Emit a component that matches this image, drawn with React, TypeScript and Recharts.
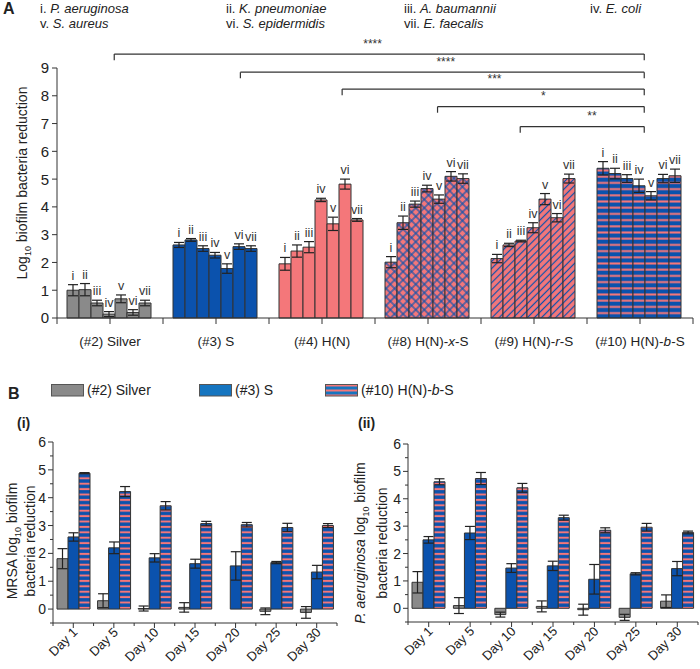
import React from "react";
import {
  BarChart,
  ScatterChart,
  Scatter,
  Bar,
  XAxis,
  YAxis,
  ErrorBar,
  Cell,
  LabelList,
  ReferenceLine,
} from "recharts";

const FONT = '"Liberation Sans", Arial, Helvetica, sans-serif';
const GRAY = "#8a8a8a";
const BLUE = "#0b52ad";
const LEGEND_BLUE = "#1675c0";
const SALMON = "#f4777a";
const EDGE = "#333333";
const INK = "#222222";

// ---------- panel A data ----------
const groupsA = [
  "(#2) Silver",
  "(#3) S",
  "(#4) H(N)",
  "(#8) H(N)-x-S",
  "(#9) H(N)-r-S",
  "(#10) H(N)-b-S",
];
const strains = ["i", "ii", "iii", "iv", "v", "vi", "vii"];
const speciesNames = [
  "P. aeruginosa",
  "K. pneumoniae",
  "A. baumannii",
  "E. coli",
  "S. aureus",
  "S. epidermidis",
  "E. faecalis",
];

const silverA = [1.0, 1.02, 0.54, 0.14, 0.69, 0.2, 0.54];
const silverErrA = [0.2, 0.22, 0.1, 0.09, 0.14, 0.1, 0.1];
const sA = [2.63, 2.81, 2.5, 2.26, 1.78, 2.57, 2.5];
const sErrA = [0.09, 0.05, 0.1, 0.1, 0.17, 0.1, 0.1];
const hnA = [1.95, 2.41, 2.55, 4.25, 3.39, 4.82, 3.53];
const hnErrA = [0.23, 0.22, 0.2, 0.06, 0.24, 0.18, 0.05];
const hnxA = [2.01, 3.43, 4.1, 4.66, 4.28, 5.1, 5.02];
const hnxErrA = [0.2, 0.24, 0.11, 0.12, 0.15, 0.17, 0.17];
const hnrA = [2.14, 2.63, 2.77, 3.25, 4.28, 3.61, 5.02];
const hnrErrA = [0.15, 0.06, 0.03, 0.18, 0.2, 0.15, 0.16];
const hnbA = [5.39, 5.2, 5.02, 4.76, 4.4, 5.02, 5.12];
const hnbErrA = [0.24, 0.19, 0.14, 0.24, 0.15, 0.15, 0.24];

const valuesA = [silverA, sA, hnA, hnxA, hnrA, hnbA];
const errorsA = [silverErrA, sErrA, hnErrA, hnxErrA, hnrErrA, hnbErrA];

// significance brackets (x on a 0..6 group scale, y in log units)
const bracketLeft = [0.54, 1.73, 2.69, 3.59, 4.37];
const bracketRight = 5.54;
const bracketY = [9.5, 8.85, 8.24, 7.61, 6.89];
const bracketStarX = [3.02, 3.71, 4.17, 4.63, 5.09];
const bracketStars = ["****", "****", "***", "*", "**"];
const bracketDrop = 0.22;

// ---------- panel B data ----------
const days = ["Day 1", "Day 5", "Day 10", "Day 15", "Day 20", "Day 25", "Day 30"];

const mrsaSilver = [1.81, 0.3, 0.02, 0.06, 0.0, -0.08, -0.12];
const mrsaSilverErr = [0.36, 0.25, 0.09, 0.17, 0.2, 0.12, 0.21];
const mrsaS = [2.59, 2.2, 1.84, 1.63, 1.55, 1.67, 1.33];
const mrsaSErr = [0.15, 0.21, 0.15, 0.16, 0.51, 0.04, 0.24];
const mrsaBS = [4.88, 4.22, 3.71, 3.07, 3.03, 2.93, 3.0];
const mrsaBSErr = [0.02, 0.18, 0.15, 0.08, 0.08, 0.15, 0.07];

const paSilver = [0.95, 0.1, -0.23, 0.07, -0.05, -0.33, 0.26];
const paSilverErr = [0.39, 0.29, 0.09, 0.2, 0.2, 0.11, 0.23];
const paS = [2.5, 2.75, 1.47, 1.55, 1.06, 1.26, 1.45];
const paSErr = [0.12, 0.24, 0.16, 0.17, 0.54, 0.04, 0.26];
const paBS = [4.62, 4.74, 4.4, 3.31, 2.85, 2.96, 2.77];
const paBSErr = [0.11, 0.22, 0.16, 0.09, 0.09, 0.14, 0.05];

const ticksA = [0, 1, 2, 3, 4, 5, 6, 7, 8, 9];
const ticksB = [-0.5, 0, 0.5, 1, 1.5, 2, 2.5, 3, 3.5, 4, 4.5, 5, 5.5, 6];

// ---------- layout ----------
const A_W = 700;
const A_H = 355;
const A_MARGIN = { top: 68, right: 7, left: 0, bottom: 0 };
const A_YW = 57;
const A_XH = 37;
const A_PLOT_H = A_H - A_MARGIN.top - A_XH;
const A_PPU = A_PLOT_H / 9;
const A_BAND = (A_W - A_MARGIN.left - A_MARGIN.right - A_YW) / groupsA.length;

const groupFills = [GRAY, BLUE, SALMON, "url(#xhatchA)", "url(#rhatchA)", "url(#bstripeA)"];

const tableA = groupsA.map((group, gi) => {
  const row: Record<string, string | number> = { group };
  strains.forEach((_, si) => {
    row[`v${si}`] = valuesA[gi][si];
    row[`e${si}`] = errorsA[gi][si];
  });
  return row;
});

const starPoints = bracketStars.map((label, i) => ({ x: bracketStarX[i], y: bracketY[i], label }));

const buildTableB = (silver: number[], silverErr: number[], s: number[], sErr: number[], bs: number[], bsErr: number[]) =>
  days.map((day, i) => ({
    day,
    silver: silver[i],
    silverErr: silverErr[i],
    s: s[i],
    sErr: sErr[i],
    bs: bs[i],
    bsErr: bsErr[i],
  }));

const tableB1 = buildTableB(mrsaSilver, mrsaSilverErr, mrsaS, mrsaSErr, mrsaBS, mrsaBSErr);
const tableB2 = buildTableB(paSilver, paSilverErr, paS, paSErr, paBS, paBSErr);

// ---------- shared bits ----------
function Patterns({ suffix, stripe }: { suffix: string; stripe: number }) {
  return (
    <defs>
      <pattern id={`bstripe${suffix}`} width={8} height={stripe} patternUnits="userSpaceOnUse">
        <rect width={8} height={stripe} fill={BLUE} />
        <rect y={stripe / 2 - 1} width={8} height={2} fill={SALMON} />
      </pattern>
      <pattern id={`rhatch${suffix}`} width={5} height={5} patternUnits="userSpaceOnUse" patternTransform="rotate(45)">
        <rect width={5} height={5} fill={SALMON} />
        <line x1={2.5} y1={0} x2={2.5} y2={5} stroke={BLUE} strokeWidth={1.2} />
      </pattern>
      <pattern id={`xhatch${suffix}`} width={6} height={6} patternUnits="userSpaceOnUse" patternTransform="rotate(45)">
        <rect width={6} height={6} fill={SALMON} />
        <line x1={3} y1={0} x2={3} y2={6} stroke={BLUE} strokeWidth={1.2} />
        <line x1={0} y1={3} x2={6} y2={3} stroke={BLUE} strokeWidth={1.2} />
      </pattern>
    </defs>
  );
}

// svg version: italic letter as tspan
function GroupLabel({ text }: { text: string }) {
  const parts = text.split(/-(x|r|b)-/);
  if (parts.length === 1) return <>{text}</>;
  return (
    <>
      {parts[0]}-<tspan fontStyle="italic">{parts[1]}</tspan>-{parts[2]}
    </>
  );
}

// html version for the legend
function GroupLabelHtml({ text }: { text: string }) {
  const parts = text.split(/-(x|r|b)-/);
  if (parts.length === 1) return <>{text}</>;
  return (
    <>
      {parts[0]}-<i>{parts[1]}</i>-{parts[2]}
    </>
  );
}

const GroupTick = (props: any) => {
  const { x, y, payload, index } = props;
  const half = A_BAND / 2;
  const last = index === groupsA.length - 1;
  return (
    <g>
      <line x1={x} x2={x} y1={y} y2={y + 6} stroke={EDGE} />
      <line x1={x - half} x2={x - half} y1={y} y2={y + 6} stroke={EDGE} />
      {last && <line x1={x + half} x2={x + half} y1={y} y2={y + 6} stroke={EDGE} />}
      <text x={x} y={y + 28} textAnchor="middle" fontSize={13.5} fill={INK} fontFamily={FONT}>
        <GroupLabel text={payload.value} />
      </text>
    </g>
  );
};

const YTickA = (props: any) => {
  const { x, y, payload } = props;
  return (
    <g>
      <line x1={x - 5} x2={x} y1={y} y2={y} stroke={EDGE} />
      <text x={x - 8} y={y} dy="0.36em" textAnchor="end" fontSize={15} fill={INK} fontFamily={FONT}>
        {payload.value}
      </text>
    </g>
  );
};

const YTickB = (props: any) => {
  const { x, y, payload } = props;
  const major = Number.isInteger(payload.value);
  return (
    <g>
      <line x1={x - (major ? 5 : 3)} x2={x} y1={y} y2={y} stroke={EDGE} />
      {major && (
        <text x={x - 7} y={y} dy="0.36em" textAnchor="end" fontSize={14} fill={INK} fontFamily={FONT}>
          {payload.value}
        </text>
      )}
    </g>
  );
};

const makeDayTick = (band: number) => (props: any) => {
  const { x, y, payload, index } = props;
  const half = band / 2;
  const last = index === days.length - 1;
  const ax = x + 5;
  const ay = y + 10;
  return (
    <g>
      <line x1={x} x2={x} y1={y} y2={y + 5} stroke={EDGE} />
      <line x1={x - half} x2={x - half} y1={y} y2={y + 3} stroke={EDGE} />
      {last && <line x1={x + half} x2={x + half} y1={y} y2={y + 3} stroke={EDGE} />}
      <text
        x={ax}
        y={ay}
        transform={`rotate(-45 ${ax} ${ay})`}
        textAnchor="end"
        fontSize={13}
        fill={INK}
        fontFamily={FONT}
      >
        {payload.value}
      </text>
    </g>
  );
};

const strainLabel = (si: number) => (props: any) => {
  const vb = props.viewBox || {};
  const x = props.x ?? vb.x;
  const y = props.y ?? vb.y;
  const width = props.width ?? vb.width;
  const err = Number(props.value);
  const top = y - err * A_PPU;
  return (
    <text x={x + width / 2} y={top - 5} textAnchor="middle" fontSize={12.5} fill="#333" fontFamily={FONT}>
      {strains[si]}
    </text>
  );
};

// ---------- panel A ----------
function PanelA() {
  return (
    <BarChart
      width={A_W}
      height={A_H}
      data={tableA}
      margin={A_MARGIN}
      barCategoryGap={10}
      barGap={0}
      style={{ position: "absolute", left: 0, top: 0 }}
    >
      <Patterns suffix="A" stripe={6.2} />
      <XAxis
        dataKey="group"
        height={A_XH}
        tick={<GroupTick />}
        tickLine={false}
        tickSize={0}
        tickMargin={0}
        axisLine={{ stroke: EDGE }}
        interval={0}
      />
      <YAxis
        width={A_YW}
        domain={[0, 9]}
        ticks={ticksA}
        tick={<YTickA />}
        tickLine={false}
        tickSize={0}
        tickMargin={0}
        axisLine={{ stroke: EDGE }}
        label={{
          content: () => (
            <text
              x={22}
              y={183}
              transform="rotate(-90 22 183)"
              textAnchor="middle"
              dy="0.36em"
              fontSize={14}
              fill={INK}
              fontFamily={FONT}
            >
              Log<tspan fontSize={9} dy={4}>10</tspan>
              <tspan dy={-4}> biofilm bacteria reduction</tspan>
            </text>
          ),
        }}
      />
      {strains.map((s, si) => (
        <Bar key={s} dataKey={`v${si}`} stroke={EDGE} strokeWidth={1} isAnimationActive={false}>
          {tableA.map((row, gi) => (
            <Cell key={gi} fill={groupFills[gi]} />
          ))}
          <ErrorBar dataKey={`e${si}`} width={5} stroke={INK} strokeWidth={1.2} />
          <LabelList dataKey={`e${si}`} content={strainLabel(si)} />
        </Bar>
      ))}
    </BarChart>
  );
}

// significance brackets drawn on a transparent numeric overlay with the same plot box
function BracketsA() {
  return (
    <ScatterChart
      width={A_W}
      height={A_H}
      margin={{ top: A_MARGIN.top, right: A_MARGIN.right, left: A_MARGIN.left + A_YW, bottom: A_XH }}
      style={{ position: "absolute", left: 0, top: 0, pointerEvents: "none" }}
    >
      <XAxis type="number" dataKey="x" domain={[0, 6]} allowDataOverflow hide />
      <YAxis type="number" dataKey="y" domain={[0, 9]} allowDataOverflow hide />
      {bracketY.map((by, i) => (
        <ReferenceLine
          key={`h${i}`}
          segment={[
            { x: bracketLeft[i], y: by },
            { x: bracketRight, y: by },
          ]}
          stroke={EDGE}
          strokeWidth={1.2}
          ifOverflow="visible"
        />
      ))}
      {bracketY.map((by, i) => (
        <ReferenceLine
          key={`l${i}`}
          segment={[
            { x: bracketLeft[i], y: by },
            { x: bracketLeft[i], y: by - bracketDrop },
          ]}
          stroke={EDGE}
          strokeWidth={1.2}
          ifOverflow="visible"
        />
      ))}
      {bracketY.map((by, i) => (
        <ReferenceLine
          key={`r${i}`}
          segment={[
            { x: bracketRight, y: by },
            { x: bracketRight, y: by - bracketDrop },
          ]}
          stroke={EDGE}
          strokeWidth={1.2}
          ifOverflow="visible"
        />
      ))}
      <Scatter data={starPoints} shape={() => <g />} isAnimationActive={false}>
        <LabelList
          dataKey="label"
          content={(p: any) => (
            <text x={p.x} y={p.y - 2} textAnchor="middle" fontSize={12} fill="#333" fontFamily={FONT}>
              {p.value}
            </text>
          )}
        />
      </Scatter>
    </ScatterChart>
  );
}

// ---------- panel B ----------
function PanelB({
  data,
  left,
  width,
  yWidth,
  marginTop,
  marginRight,
  xHeight,
  suffix,
  titleLine1,
  titleX1,
  titleX2,
  titleY,
}: {
  data: any[];
  left: number;
  width: number;
  yWidth: number;
  marginTop: number;
  marginRight: number;
  xHeight: number;
  suffix: string;
  titleLine1: React.ReactNode;
  titleX1: number;
  titleX2: number;
  titleY: number;
}) {
  const height = 269;
  const band = (width - yWidth - marginRight) / days.length;
  const DayTick = makeDayTick(band);
  return (
    <BarChart
      width={width}
      height={height}
      data={data}
      margin={{ top: marginTop, right: marginRight, left: 0, bottom: 0 }}
      barCategoryGap={4}
      barGap={0}
      style={{ position: "absolute", left, top: 400 }}
    >
      <Patterns suffix={suffix} stripe={5.4} />
      <XAxis
        dataKey="day"
        height={xHeight}
        tick={<DayTick />}
        tickLine={false}
        tickSize={0}
        tickMargin={0}
        axisLine={{ stroke: EDGE }}
        interval={0}
      />
      <YAxis
        width={yWidth}
        domain={[-0.5, 6]}
        ticks={ticksB}
        tick={<YTickB />}
        tickLine={false}
        tickSize={0}
        tickMargin={0}
        axisLine={{ stroke: EDGE }}
        interval={0}
        label={{
          content: () => (
            <g fontSize={14} fill={INK} fontFamily={FONT}>
              <text x={titleX1} y={titleY} transform={`rotate(-90 ${titleX1} ${titleY})`} textAnchor="middle" dy="0.36em">
                {titleLine1}
              </text>
              <text x={titleX2} y={titleY} transform={`rotate(-90 ${titleX2} ${titleY})`} textAnchor="middle" dy="0.36em">
                bacteria reduction
              </text>
            </g>
          ),
        }}
      />
      <Bar dataKey="silver" fill={GRAY} stroke={EDGE} strokeWidth={1} isAnimationActive={false}>
        <ErrorBar dataKey="silverErr" width={5} stroke={INK} strokeWidth={1.2} />
      </Bar>
      <Bar dataKey="s" fill={BLUE} stroke={EDGE} strokeWidth={1} isAnimationActive={false}>
        <ErrorBar dataKey="sErr" width={5} stroke={INK} strokeWidth={1.2} />
      </Bar>
      <Bar dataKey="bs" fill={`url(#bstripe${suffix})`} stroke={EDGE} strokeWidth={1} isAnimationActive={false}>
        <ErrorBar dataKey="bsErr" width={5} stroke={INK} strokeWidth={1.2} />
      </Bar>
    </BarChart>
  );
}

const legendB = [
  { label: "(#2) Silver", fill: GRAY, left: 51 },
  { label: "(#3) S", fill: LEGEND_BLUE, left: 199 },
  { label: "(#10) H(N)-b-S", fill: "url(#bstripeL)", left: 325 },
];

function LegendB() {
  return (
    <>
      {legendB.map((item) => (
        <div
          key={item.label}
          style={{ position: "absolute", left: item.left, top: 382, display: "flex", alignItems: "center", whiteSpace: "nowrap" }}
        >
          <svg width={33} height={14}>
            <defs>
              <pattern id="bstripeL" width={8} height={5} patternUnits="userSpaceOnUse">
                <rect width={8} height={5} fill={LEGEND_BLUE} />
                <rect y={1.5} width={8} height={2} fill={SALMON} />
              </pattern>
            </defs>
            <rect x={0.5} y={1.5} width={32} height={11.5} fill={item.fill} stroke="#555" />
          </svg>
          <span style={{ marginLeft: 3, fontSize: 14, color: INK, fontFamily: FONT }}>
            <GroupLabelHtml text={item.label} />
          </span>
        </div>
      ))}
    </>
  );
}

const textStyle: React.CSSProperties = { position: "absolute", fontFamily: FONT, color: INK, whiteSpace: "nowrap", lineHeight: 1 };

export default function App() {
  return (
    <div style={{ position: "relative", width: 700, height: 669, background: "#fff", overflow: "hidden" }}>
      <style>{"body{margin:0;}"}</style>
      <div style={{ ...textStyle, left: 3, top: 1, fontSize: 16, fontWeight: "bold" }}>A</div>
      {speciesNames.map((name, i) => (
        <div
          key={name}
          style={{
            ...textStyle,
            left: [40, 226, 404, 590][i % 4],
            top: i < 4 ? 1.5 : 17,
            fontSize: 13,
          }}
        >
          {strains[i]}. <i>{name}</i>
        </div>
      ))}
      <PanelA />
      <BracketsA />
      <div style={{ ...textStyle, left: 8, top: 386, fontSize: 16, fontWeight: "bold" }}>B</div>
      <LegendB />
      <div style={{ ...textStyle, left: 17, top: 416, fontSize: 14, fontWeight: "bold" }}>(i)</div>
      <div style={{ ...textStyle, left: 358, top: 416, fontSize: 14, fontWeight: "bold" }}>(ii)</div>
      <PanelB
        data={tableB1}
        left={0}
        width={345}
        yWidth={53}
        marginTop={42}
        marginRight={8}
        xHeight={46}
        suffix="B1"
        titleLine1={
          <>
            MRSA log<tspan fontSize={9} dy={4}>10</tspan>
            <tspan dy={-4}> biofilm</tspan>
          </>
        }
        titleX1={12}
        titleX2={30}
        titleY={141}
      />
      <PanelB
        data={tableB2}
        left={350}
        width={350}
        yWidth={58}
        marginTop={44}
        marginRight={2}
        xHeight={47}
        suffix="B2"
        titleLine1={
          <>
            <tspan fontStyle="italic">P. aeruginosa</tspan> log<tspan fontSize={9} dy={4}>10</tspan>
            <tspan dy={-4}> biofilm</tspan>
          </>
        }
        titleX1={10}
        titleX2={32}
        titleY={143}
      />
    </div>
  );
}
